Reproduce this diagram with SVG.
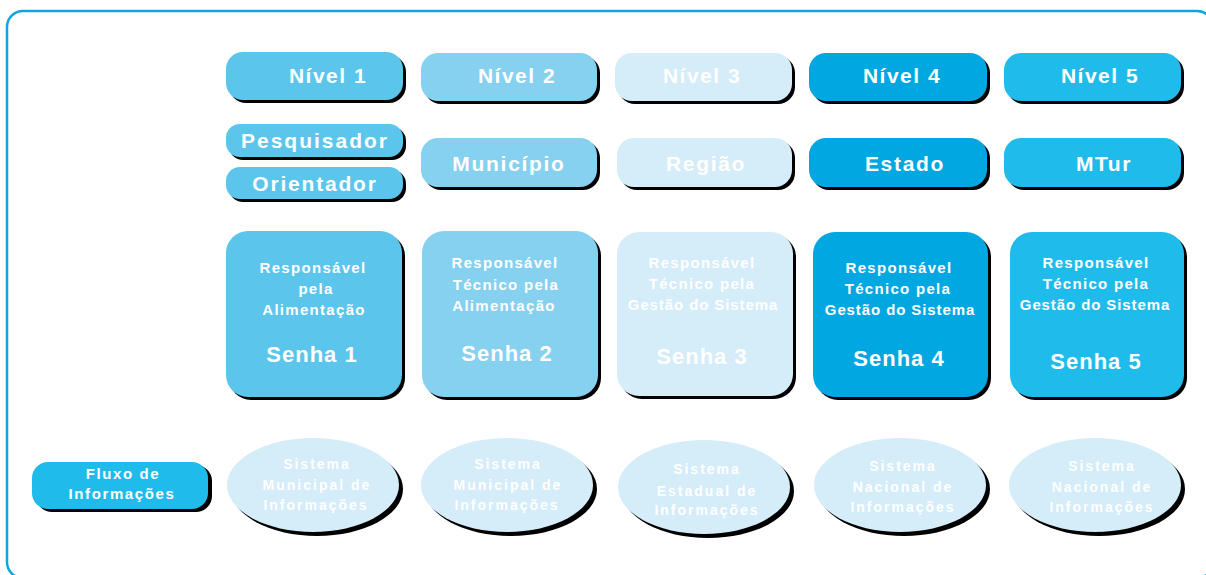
<svg xmlns="http://www.w3.org/2000/svg" width="1206" height="575" viewBox="0 0 1206 575">
<style>
text{font-family:"Liberation Sans",Arial,sans-serif;font-weight:bold;fill:#ffffff;text-anchor:middle}
.h{font-size:21px;letter-spacing:1.5px}
.s{font-size:15px;letter-spacing:1.3px}
.p{font-size:22px;letter-spacing:1px}
.e{font-size:14px;letter-spacing:2px}
.sh{fill:#000000}
.c1{fill:#5BC5EC}
.c2{fill:#86D0F0}
.c3{fill:#D5ECF9}
.c4{fill:#00A7E1}
.c5{fill:#1FBBEA}
</style>
<rect x="0" y="0" width="1206" height="575" fill="#ffffff"/>
<rect x="7" y="11" width="1206" height="567" rx="16" fill="none" stroke="#12A4E0" stroke-width="2.5"/>
<g id="connectors"/>
<!-- Row 1: levels -->
<g id="nivel1"><rect class="sh" x="229" y="55" width="177" height="48" rx="17"/><rect class="c1" x="226" y="52" width="177" height="48" rx="17"/><text class="h" x="328" y="83">Nível 1</text></g>
<g id="nivel2"><rect class="sh" x="424" y="56" width="176" height="48" rx="17"/><rect class="c2" x="421" y="53" width="176" height="48" rx="17"/><text class="h" x="517" y="83">Nível 2</text></g>
<g id="nivel3"><rect class="sh" x="618" y="56" width="177" height="48" rx="17"/><rect class="c3" x="615" y="53" width="177" height="48" rx="17"/><text class="h" x="702" y="83">Nível 3</text></g>
<g id="nivel4"><rect class="sh" x="812" y="56" width="178" height="48" rx="17"/><rect class="c4" x="809" y="53" width="178" height="48" rx="17"/><text class="h" x="902" y="83">Nível 4</text></g>
<g id="nivel5"><rect class="sh" x="1007" y="56" width="177" height="48" rx="17"/><rect class="c5" x="1004" y="53" width="177" height="48" rx="17"/><text class="h" x="1100" y="83">Nível 5</text></g>
<!-- Row 2: roles -->
<g id="pesquisador"><rect class="sh" x="229" y="127" width="177" height="33" rx="14"/><rect class="c1" x="226" y="124" width="177" height="33" rx="14"/><text class="h" x="315" y="148" style="letter-spacing:2px">Pesquisador</text></g>
<g id="orientador"><rect class="sh" x="229" y="170" width="177" height="32" rx="14"/><rect class="c1" x="226" y="167" width="177" height="32" rx="14"/><text class="h" x="315" y="191" style="letter-spacing:1.8px">Orientador</text></g>
<g id="municipio"><rect class="sh" x="424" y="141" width="176" height="49" rx="17"/><rect class="c2" x="421" y="138" width="176" height="49" rx="17"/><text class="h" x="509" y="171" style="letter-spacing:1.7px">Município</text></g>
<g id="regiao"><rect class="sh" x="620" y="141" width="175" height="49" rx="17"/><rect class="c3" x="617" y="138" width="175" height="49" rx="17"/><text class="h" x="706" y="171" style="letter-spacing:1.7px">Região</text></g>
<g id="estado"><rect class="sh" x="812" y="141" width="178" height="49" rx="17"/><rect class="c4" x="809" y="138" width="178" height="49" rx="17"/><text class="h" x="905" y="171" style="letter-spacing:1.7px">Estado</text></g>
<g id="mtur"><rect class="sh" x="1007" y="141" width="177" height="49" rx="17"/><rect class="c5" x="1004" y="138" width="177" height="49" rx="17"/><text class="h" x="1104" y="171" style="letter-spacing:1.5px">MTur</text></g>
<!-- Row 3: passwords -->
<g id="senha1"><rect class="sh" x="229" y="234" width="176" height="166" rx="22"/><rect class="c1" x="226" y="231" width="176" height="166" rx="22"/>
<text class="s" x="313" y="273">Responsável</text><text class="s" x="316" y="294">pela</text><text class="s" x="314" y="315">Alimentação</text><text class="p" x="312" y="362">Senha 1</text></g>
<g id="senha2"><rect class="sh" x="425" y="234" width="176" height="166" rx="22"/><rect class="c2" x="422" y="231" width="176" height="166" rx="22"/>
<text class="s" x="505" y="268">Responsável</text><text class="s" x="506" y="290">Técnico pela</text><text class="s" x="504" y="311">Alimentação</text><text class="p" x="507" y="361">Senha 2</text></g>
<g id="senha3"><rect class="sh" x="620" y="235" width="176" height="164" rx="22"/><rect class="c3" x="617" y="232" width="176" height="164" rx="22"/>
<text class="s" x="702" y="268">Responsável</text><text class="s" x="702" y="289">Técnico pela</text><text class="s" x="703" y="310" style="letter-spacing:0.9px">Gestão do  Sistema</text><text class="p" x="702" y="364">Senha 3</text></g>
<g id="senha4"><rect class="sh" x="816" y="235" width="175" height="165" rx="22"/><rect class="c4" x="813" y="232" width="175" height="165" rx="22"/>
<text class="s" x="899" y="273">Responsável</text><text class="s" x="898" y="294">Técnico pela</text><text class="s" x="900" y="315" style="letter-spacing:0.9px">Gestão do  Sistema</text><text class="p" x="899" y="366">Senha 4</text></g>
<g id="senha5"><rect class="sh" x="1013" y="235" width="174" height="165" rx="22"/><rect class="c5" x="1010" y="232" width="174" height="165" rx="22"/>
<text class="s" x="1096" y="268">Responsável</text><text class="s" x="1096" y="289">Técnico pela</text><text class="s" x="1095" y="310" style="letter-spacing:0.9px">Gestão do  Sistema</text><text class="p" x="1096" y="369">Senha 5</text></g>
<!-- Row 4: information flow -->
<g id="fluxo"><rect class="sh" x="36" y="465" width="176" height="47" rx="16"/><rect class="c5" x="32" y="462" width="176" height="47" rx="16"/>
<text class="e" x="123" y="479" style="font-size:15px;letter-spacing:1.6px">Fluxo de</text><text class="e" x="122" y="499" style="font-size:15px;letter-spacing:1.6px">Informações</text></g>
<g id="sis1"><ellipse class="sh" cx="317" cy="489" rx="86" ry="47"/><ellipse class="c3" cx="313" cy="485" rx="86" ry="47"/>
<text class="e" x="317" y="469">Sistema</text><text class="e" x="317" y="490">Municipal de</text><text class="e" x="316" y="510">Informações</text></g>
<g id="sis2"><ellipse class="sh" cx="511" cy="489" rx="86" ry="47"/><ellipse class="c3" cx="507" cy="485" rx="86" ry="47"/>
<text class="e" x="508" y="469">Sistema</text><text class="e" x="508" y="490">Municipal de</text><text class="e" x="507" y="510">Informações</text></g>
<g id="sis3"><ellipse class="sh" cx="708" cy="491" rx="86" ry="47"/><ellipse class="c3" cx="704" cy="487" rx="86" ry="47"/>
<text class="e" x="707" y="474">Sistema</text><text class="e" x="707" y="496">Estadual de</text><text class="e" x="707" y="515">Informações</text></g>
<g id="sis4"><ellipse class="sh" cx="904" cy="489" rx="86" ry="47"/><ellipse class="c3" cx="900" cy="485" rx="86" ry="47"/>
<text class="e" x="903" y="471">Sistema</text><text class="e" x="903" y="492">Nacional de</text><text class="e" x="903" y="512">Informações</text></g>
<g id="sis5"><ellipse class="sh" cx="1099" cy="489" rx="86" ry="47"/><ellipse class="c3" cx="1095" cy="485" rx="86" ry="47"/>
<text class="e" x="1102" y="471">Sistema</text><text class="e" x="1102" y="492">Nacional de</text><text class="e" x="1102" y="512">Informações</text></g>
</svg>
